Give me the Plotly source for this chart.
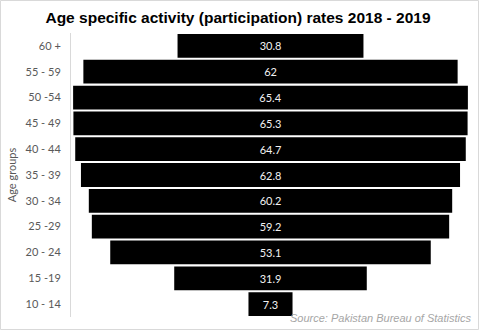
import plotly.graph_objects as go

age_groups = ["60 +", "55 - 59", "50 -54", "45 - 49", "40 - 44", "35 - 39",
              "30 - 34", "25 -29", "20 - 24", "15 -19", "10 - 14"]
rates = [30.8, 62, 65.4, 65.3, 64.7, 62.8, 60.2, 59.2, 53.1, 31.9, 7.3]
title_text = "Age specific activity (participation) rates 2018 - 2019"
source_text = "Source: Pakistan Bureau of Statistics"

W, H = 479, 330
ml, mr, mt, mb = 71, 9, 33, 13
pw, ph = W - ml - mr, H - mt - mb

fig = go.Figure(go.Bar(
    y=age_groups,
    x=rates,
    base=[-v / 2 for v in rates],
    orientation="h",
    marker=dict(color="#000000", line=dict(width=0)),
    text=[str(v) for v in rates],
    textposition="inside",
    insidetextanchor="middle",
    textangle=0,
    textfont=dict(color="#f2f2f2", size=11, family="Lato"),
    hoverinfo="skip",
))

fig.update_layout(
    width=W, height=H,
    margin=dict(l=ml, r=mr, t=mt, b=mb),
    paper_bgcolor="white", plot_bgcolor="white",
    bargap=0.08,
    showlegend=False,
    title=dict(text="<b>" + title_text + "</b>", x=238 / W, xanchor="center",
               y=1 - 18 / H, yanchor="middle",
               font=dict(family="Liberation Sans", size=15.5, color="#000000")),
    xaxis=dict(range=[-33.05, 33.05], visible=False, fixedrange=True),
    yaxis=dict(categoryorder="array", categoryarray=age_groups[::-1],
               showgrid=False, zeroline=False, showline=True,
               linecolor="#d9d9d9", linewidth=1, ticks="",
               ticklabelstandoff=7,
               tickfont=dict(family="Lato", size=11, color="#595959"),
               title=dict(text="Age groups", standoff=6,
                          font=dict(family="Lato", size=11, color="#595959"))),
    shapes=[dict(type="rect", xref="paper", yref="paper",
                 x0=-(ml - 0.5) / pw, x1=1 + (mr - 0.5) / pw,
                 y0=-(mb - 0.5) / ph, y1=1 + (mt - 0.5) / ph,
                 line=dict(color="#d9d9d9", width=1))],
    annotations=[dict(text="<i>" + source_text + "</i>", xref="paper", yref="paper",
                      x=1 + (473 - (W - mr)) / pw, xanchor="right",
                      y=-(318 - (H - mb)) / ph, yanchor="middle", showarrow=False,
                      font=dict(family="Liberation Sans", size=11, color="#a6a6a6"))],
)

fig.write_html("out.html")
